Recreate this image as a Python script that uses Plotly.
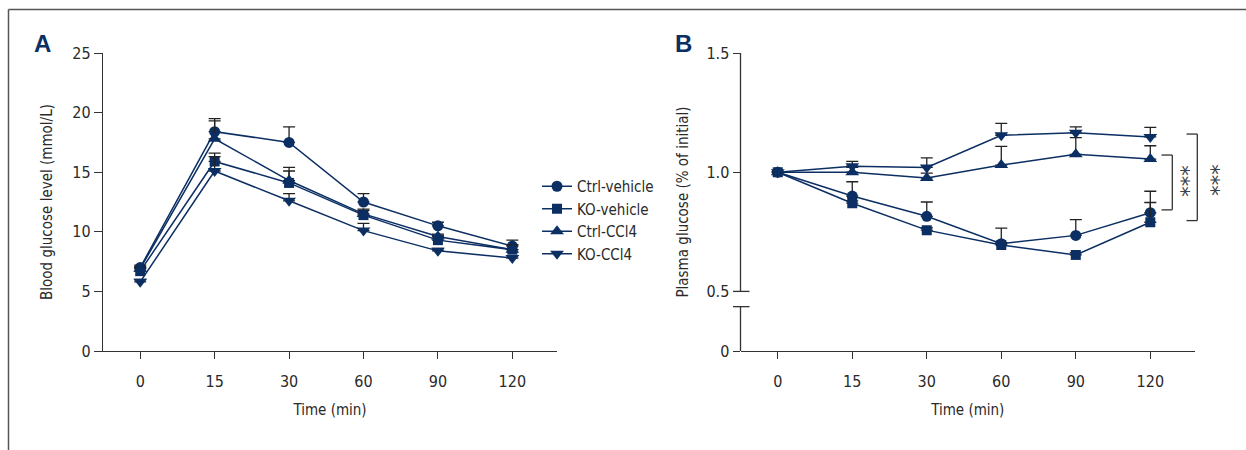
import plotly.graph_objects as go

# ---------------- data ----------------
times = ["0", "15", "30", "60", "90", "120"]
series_names = ["Ctrl-vehicle", "KO-vehicle", "Ctrl-CCl4", "KO-CCl4"]

# Panel A: blood glucose (mmol/L)
ctrl_vehicle_A = [7.0, 18.4, 17.5, 12.5, 10.5, 8.8]
ctrl_vehicle_A_err = [0.2, 1.1, 1.3, 0.7, 0.3, 0.5]
ko_vehicle_A = [6.7, 15.9, 14.1, 11.4, 9.3, 8.5]
ko_vehicle_A_err = [0.3, 0.7, 1.3, 0.5, 0.4, 0.4]
ctrl_ccl4_A = [6.9, 17.8, 14.3, 11.5, 9.6, 8.5]
ctrl_ccl4_A_err = [0.2, 1.5, 0.8, 0.3, 0.2, 0.4]
ko_ccl4_A = [5.8, 15.1, 12.6, 10.1, 8.4, 7.8]
ko_ccl4_A_err = [0.2, 1.2, 0.6, 0.6, 0.2, 0.2]

# Panel B: plasma glucose (fraction of initial)
ctrl_vehicle_B = [1.0, 0.90, 0.815, 0.70, 0.735, 0.83]
ctrl_vehicle_B_err = [0.0, 0.06, 0.06, 0.065, 0.066, 0.09]
ko_vehicle_B = [1.0, 0.87, 0.757, 0.695, 0.653, 0.79]
ko_vehicle_B_err = [0.0, 0.01, 0.01, 0.01, 0.01, 0.083]
ctrl_ccl4_B = [1.0, 1.0, 0.976, 1.03, 1.075, 1.055]
ctrl_ccl4_B_err = [0.0, 0.02, 0.02, 0.078, 0.07, 0.056]
ko_ccl4_B = [1.0, 1.025, 1.02, 1.155, 1.165, 1.148]
ko_ccl4_B_err = [0.0, 0.02, 0.04, 0.05, 0.025, 0.04]

yA_ticks = [0, 5, 10, 15, 20, 25]
yB_tickvals = [0.25, 0.5, 1.0, 1.5]
yB_ticktext = ["0", "0.5", "1.0", "1.5"]
yB_break = [0.436, 0.5]

# ---------------- style ----------------
W, H = 1246, 450
NAVY = "#0b2e63"
AX = "#333333"
TXT = "#2a2a2a"
FONT = "DejaVu Sans Condensed, Liberation Sans Narrow, sans-serif"
FS = 15
FT = 16
symbols = ["circle", "square", "triangle-up", "triangle-down"]
sizes = [11, 10, 12, 12]

def px(x):
    return x / W

def py(y):
    return 1 - y / H

fig = go.Figure()

A_vals = [ctrl_vehicle_A, ko_vehicle_A, ctrl_ccl4_A, ko_ccl4_A]
A_errs = [ctrl_vehicle_A_err, ko_vehicle_A_err, ctrl_ccl4_A_err, ko_ccl4_A_err]
B_vals = [ctrl_vehicle_B, ko_vehicle_B, ctrl_ccl4_B, ko_ccl4_B]
B_errs = [ctrl_vehicle_B_err, ko_vehicle_B_err, ctrl_ccl4_B_err, ko_ccl4_B_err]

for i, name in enumerate(series_names):
    fig.add_trace(go.Scatter(
        x=times, y=A_vals[i], name=name, mode="lines+markers",
        line=dict(color=NAVY, width=1.5),
        marker=dict(symbol=symbols[i], size=sizes[i], color=NAVY),
        error_y=dict(type="data", array=A_errs[i], symmetric=False,
                     arrayminus=[0] * len(times), color="#222222",
                     thickness=1.3, width=6),
        xaxis="x", yaxis="y", showlegend=True,
    ))
for i, name in enumerate(series_names):
    fig.add_trace(go.Scatter(
        x=times, y=B_vals[i], name=name, mode="lines+markers",
        line=dict(color=NAVY, width=1.5),
        marker=dict(symbol=symbols[i], size=sizes[i], color=NAVY),
        error_y=dict(type="data", array=B_errs[i], symmetric=False,
                     arrayminus=[0] * len(times), color="#222222",
                     thickness=1.3, width=6),
        xaxis="x2", yaxis="y2", showlegend=False,
    ))

ydom = [py(351), py(53)]
common_x = dict(type="category", range=[-0.5, 5.6], showline=True, linecolor=AX,
                linewidth=1.3, ticks="outside", ticklen=7, tickwidth=1.3,
                tickcolor=AX, showgrid=False, zeroline=False, automargin=False,
                tickfont=dict(size=FT, color=TXT, family=FONT),
                ticklabelstandoff=9,
                title=dict(text="Time (min)", font=dict(size=FS, color=TXT, family=FONT),
                           standoff=14))

fig.update_layout(
    width=W, height=H,
    margin=dict(l=0, r=0, t=0, b=0, autoexpand=False),
    paper_bgcolor="white", plot_bgcolor="white",
    font=dict(family=FONT, size=FS, color=TXT),
    xaxis=dict(domain=[px(103), px(557)], anchor="y", **common_x),
    xaxis2=dict(domain=[px(740.5), px(1195)], anchor="y2", **common_x),
    yaxis=dict(domain=ydom, anchor="x", range=[0, 25], tickvals=yA_ticks,
               showline=True, linecolor=AX, linewidth=1.3, ticks="outside",
               ticklen=8, tickwidth=1.3, tickcolor=AX, showgrid=False,
               zeroline=False, automargin=False,
               tickfont=dict(size=FT, color=TXT, family=FONT),
               title=dict(text="Blood glucose level (mmol/L)",
                          font=dict(size=FS, color=TXT, family=FONT), standoff=16)),
    yaxis2=dict(domain=ydom, anchor="x2", range=[0.25, 1.5], tickvals=yB_tickvals,
                ticktext=yB_ticktext, showline=False, ticks="outside",
                ticklen=7, tickwidth=1.3, tickcolor=AX, showgrid=False,
                zeroline=False, automargin=False,
                tickfont=dict(size=FT, color=TXT, family=FONT),
                title=dict(text="Plasma glucose (% of initial)",
                           font=dict(size=FS, color=TXT, family=FONT), standoff=14)),
    legend=dict(x=px(537), y=py(170), xanchor="left", yanchor="top",
                font=dict(size=FS, color=TXT, family=FONT),
                bgcolor="rgba(0,0,0,0)", borderwidth=0, tracegroupgap=0),
    showlegend=True,
)

shapes = []
# frame (top and left edges visible)
shapes.append(dict(type="line", xref="paper", yref="paper", x0=px(8.5), x1=1.01,
                   y0=py(9.5), y1=py(9.5), line=dict(color="#555555", width=1.5)))
shapes.append(dict(type="line", xref="paper", yref="paper", x0=px(8.5), x1=px(8.5),
                   y0=py(9.5), y1=-0.01, line=dict(color="#555555", width=1.5)))
# panel B broken y-axis
xa = px(740.5)
shapes.append(dict(type="line", xref="paper", yref="y2", x0=xa, x1=xa,
                   y0=yB_break[1], y1=1.5, line=dict(color=AX, width=1.3)))
shapes.append(dict(type="line", xref="paper", yref="y2", x0=xa, x1=xa,
                   y0=0.25, y1=yB_break[0], line=dict(color=AX, width=1.3)))
for yb in yB_break:
    shapes.append(dict(type="line", xref="paper", yref="y2", x0=px(733), x1=px(749.5),
                       y0=yb, y1=yb, line=dict(color=AX, width=1.3)))

# significance brackets
def bracket(xv, xt, y_top, y_bot):
    out = []
    out.append(dict(type="line", xref="paper", yref="y2", x0=px(xv), x1=px(xv),
                    y0=y_bot, y1=y_top, line=dict(color=AX, width=1.3)))
    for yy in (y_top, y_bot):
        out.append(dict(type="line", xref="paper", yref="y2", x0=px(xt), x1=px(xv),
                        y0=yy, y1=yy, line=dict(color=AX, width=1.3)))
    return out

shapes += bracket(1172.3, 1161.5, 1.072, 0.842)
shapes += bracket(1197.3, 1186.5, 1.160, 0.797)

lab_font = dict(size=24, color=NAVY, family="Liberation Sans, Arial, sans-serif")
star_font = dict(size=21, color="#404040", family="DejaVu Sans, sans-serif")
annotations = [
    dict(text="<b>A</b>", x=px(42), y=py(43), xref="paper", yref="paper",
         xanchor="center", yanchor="middle", showarrow=False, font=lab_font),
    dict(text="<b>B</b>", x=px(683), y=py(43), xref="paper", yref="paper",
         xanchor="center", yanchor="middle", showarrow=False, font=lab_font),
    dict(text="***", x=px(1181), y=0.962, xref="paper", yref="y2", textangle=90,
         xanchor="center", yanchor="middle", showarrow=False, font=star_font),
    dict(text="***", x=px(1211), y=0.966, xref="paper", yref="y2", textangle=90,
         xanchor="center", yanchor="middle", showarrow=False, font=star_font),
]

fig.update_layout(shapes=shapes, annotations=annotations)
fig.write_html("out.html", config={"displayModeBar": False},
               post_script="document.body.style.margin='0';")
